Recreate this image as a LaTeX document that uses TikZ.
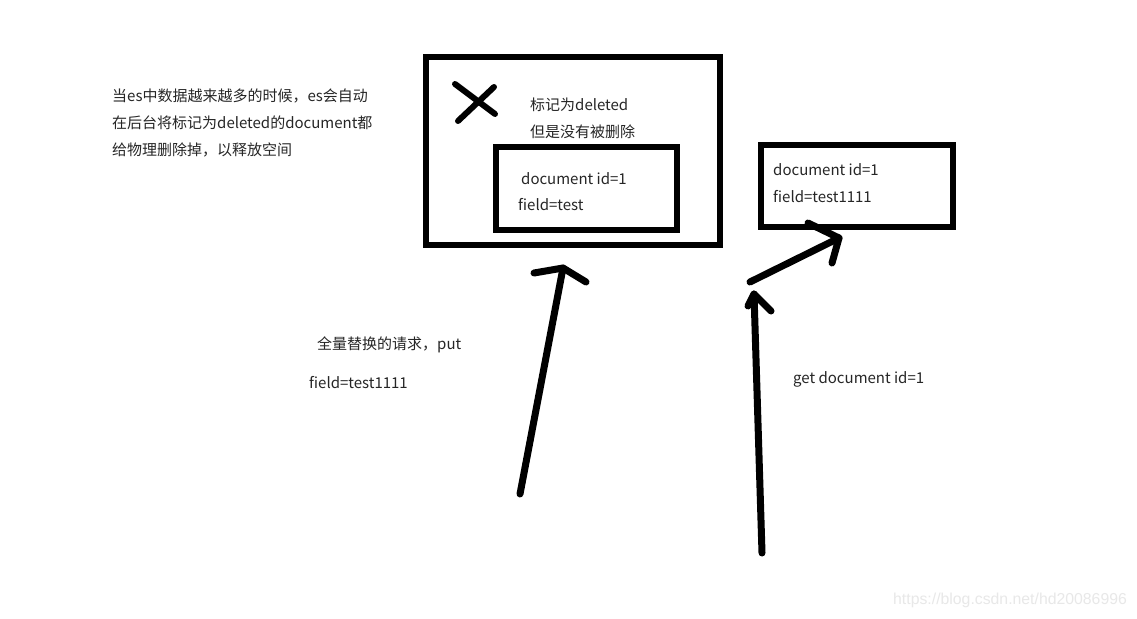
\documentclass[tikz,border=0pt]{standalone}
\usepackage{fontspec}
\setmainfont{Noto Sans CJK SC}
\newfontfamily\wmfont{Liberation Sans}
\begin{document}
\begin{tikzpicture}[x=1pt,y=-1pt,
  frame/.style={draw=black,line width=6pt,inner sep=0pt,fill=white},
  lbl/.style={anchor=west,inner sep=0pt,font=\fontsize{15}{17}\selectfont,text=black!85},
  stroke/.style={draw=black,line width=7pt,line cap=round,line join=round}]
\useasboundingbox[fill=white] (0,0) rectangle (1137,618);
% boxes
\node[frame,minimum width=294pt,minimum height=188pt] (outer) at (573,151) {};
\node[frame,minimum width=181pt,minimum height=83pt] (inner) at (586.5,188.5) {};
\node[frame,minimum width=192pt,minimum height=82pt] (newdoc) at (857,186) {};
% X mark
\coordinate (xa) at (455,84);
\coordinate (xb) at (495,114);
\coordinate (xc) at (458,121);
\coordinate (xd) at (494,87);
\draw[stroke,line width=6pt] (xa) -- (xb);
\draw[stroke,line width=6pt] (xc) -- (xd);
% texts
\node[lbl] (t1) at (112,96) {当es中数据越来越多的时候，es会自动};
\node[lbl] (t2) at (112,123) {在后台将标记为deleted的document都};
\node[lbl] (t3) at (112,150) {给物理删除掉，以释放空间};
\node[lbl] (d1) at (530,105) {标记为deleted};
\node[lbl] (d2) at (530,132) {但是没有被删除};
\node[lbl] (i1) at (521,179) {document id=1};
\node[lbl] (i2) at (518,205) {field=test};
\node[lbl] (n1) at (773,170) {document id=1};
\node[lbl] (n2) at (773,197) {field=test1111};
\node[lbl] (p1) at (317,345) {全量替换的请求，put};
\node[lbl] (p2) at (309,383) {field=test1111};
\node[lbl] (g1) at (793,379) {get document id=1};
\node[anchor=west,inner sep=0pt,font=\wmfont\fontsize{15.8}{17}\selectfont,text=black!9] (wm) at (893,600) {https://blog.csdn.net/hd20086996};
% left arrow (put)
\coordinate (pt) at (520,494);
\coordinate (ph) at (563,268);
\coordinate (pb1) at (534,273);
\coordinate (pb2) at (586,282);
\draw[stroke] (pt) -- (ph);
\draw[stroke] (pb1) -- (ph) -- (pb2);
% diagonal arrow to new doc
\coordinate (dt) at (750,282);
\coordinate (dh) at (839,238);
\coordinate (db1) at (808,223);
\coordinate (db2) at (832,263);
\draw[stroke] (dt) -- (dh);
\draw[stroke] (db1) -- (dh) -- (db2);
% vertical arrow (get)
\coordinate (vt) at (762,553);
\coordinate (vh) at (754,294);
\coordinate (vb1) at (748,306);
\coordinate (vb2) at (771,311);
\draw[stroke] (vt) -- (vh);
\draw[stroke] (vb1) -- (vh) -- (vb2);
\end{tikzpicture}
\end{document}
